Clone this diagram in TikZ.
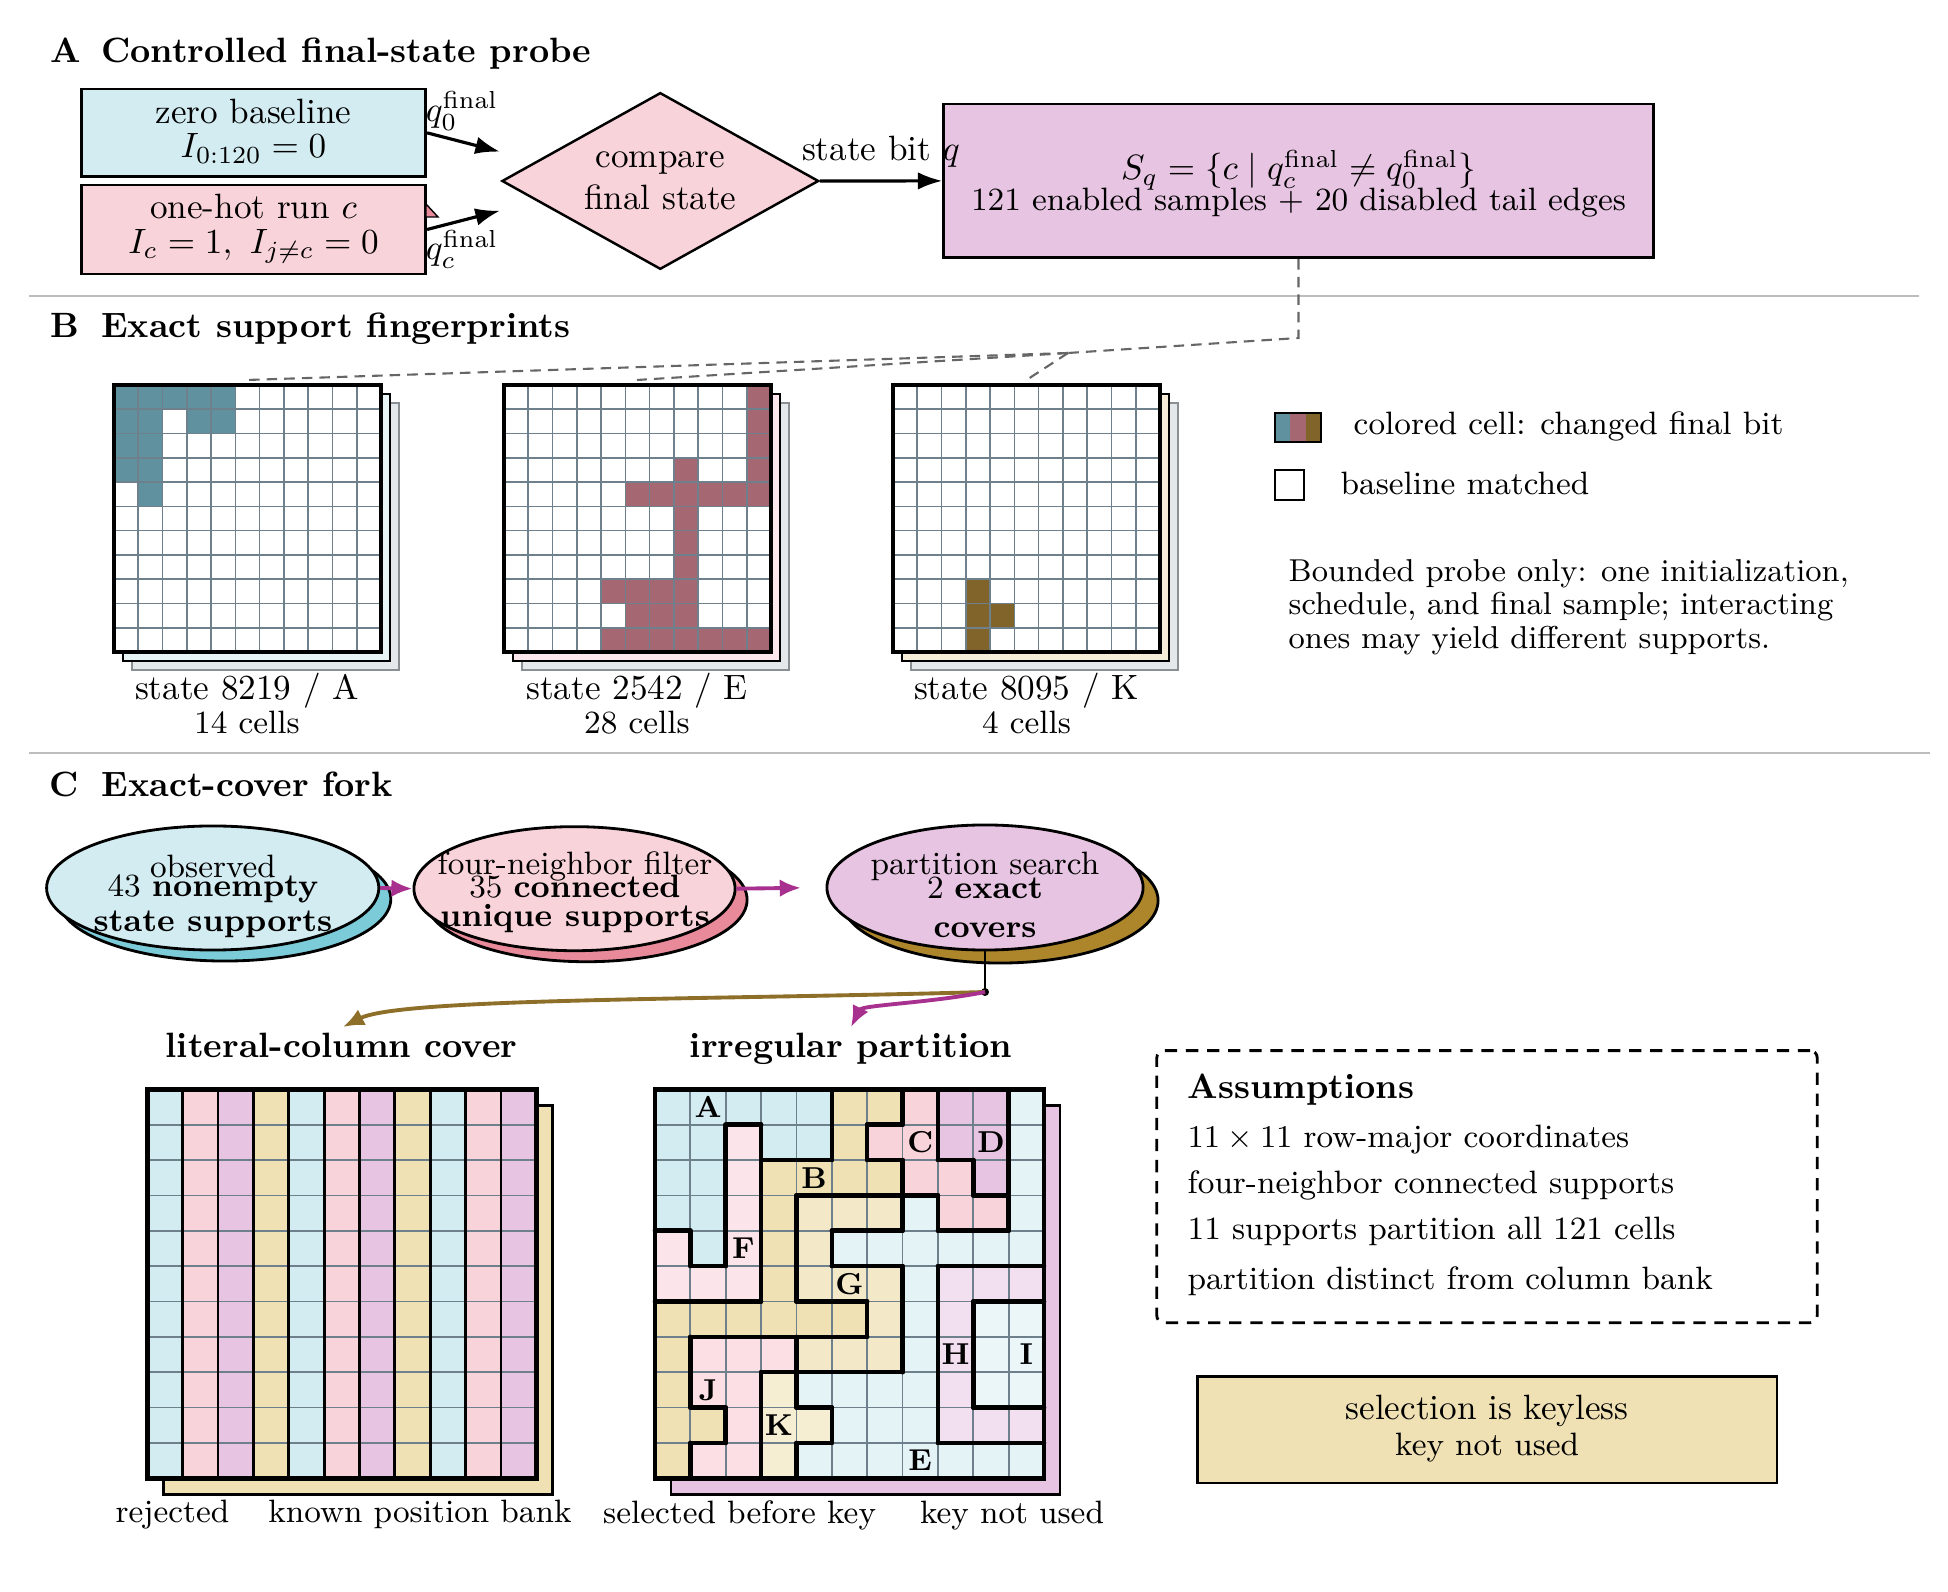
\documentclass[tikz,border=0pt]{standalone}
\usetikzlibrary{arrows.meta,shapes.geometric,calc}
\definecolor{cBlue}{HTML}{D3ECF1}
\definecolor{cPink}{HTML}{F9D3DA}
\definecolor{cLav}{HTML}{E7C4E2}
\definecolor{cTan}{HTML}{EFE1B4}
\definecolor{cTeal}{HTML}{5F929E}
\definecolor{cMauve}{HTML}{A56873}
\definecolor{cOlive}{HTML}{80642A}
\definecolor{gridc}{HTML}{6E808C}
\definecolor{sepc}{HTML}{BDBDBD}
\definecolor{dashc}{HTML}{666666}
\definecolor{magc}{HTML}{A8318F}
\definecolor{goldc}{HTML}{8E6F2A}
\definecolor{shCyan}{HTML}{7CCBD9}
\definecolor{shPink}{HTML}{E98A9B}
\definecolor{shGold}{HTML}{AD862C}
\definecolor{shTealL}{HTML}{E8F5F7}
\definecolor{shPinkL}{HTML}{FCE8EC}
\definecolor{shCreamL}{HTML}{F5EDD8}
\definecolor{shGray}{HTML}{E4E8EB}
\definecolor{shGrayB}{HTML}{8A8F94}
\definecolor{colA}{HTML}{D3ECF1}
\definecolor{colB}{HTML}{EFE1B4}
\definecolor{colC}{HTML}{F9D3DA}
\definecolor{colD}{HTML}{E7C4E2}
\definecolor{colE}{HTML}{E3F3F6}
\definecolor{colF}{HTML}{FCE5EA}
\definecolor{colG}{HTML}{F3E9C9}
\definecolor{colH}{HTML}{F2DFF0}
\definecolor{colI}{HTML}{EBF6F8}
\definecolor{colJ}{HTML}{FBDFE5}
\definecolor{colK}{HTML}{F6EED3}
\definecolor{lc0}{HTML}{D3ECF1}
\definecolor{lc1}{HTML}{F9D3DA}
\definecolor{lc2}{HTML}{E7C4E2}
\definecolor{lc3}{HTML}{EFE1B4}
\newcommand{\fpgrid}[4]{%
 \begin{scope}[shift={(#1,385)}]
  \filldraw[fill=shGray, draw=shGrayB, line width=0.5pt] (18,18) rectangle (285,285);
  \filldraw[fill=#2, draw=black, line width=0.6pt] (9,9) rectangle (276,276);
  \fill[white] (0,0) rectangle (267,267);
  \foreach \ri/\ci in {#4} \fill[#3] ({\ci*24.2727},{\ri*24.2727}) rectangle ++(24.2727,24.2727);
  \foreach \k in {1,...,10} {\draw[gridc, line width=0.45pt] ({\k*24.2727},0) -- ({\k*24.2727},267);
    \draw[gridc, line width=0.45pt] (0,{\k*24.2727}) -- (267,{\k*24.2727});}
  \draw[black, line width=1.1pt] (0,0) rectangle (267,267);
 \end{scope}}
\begin{document}
\begin{tikzpicture}[x=0.01cm,y=-0.01cm,font=\fontsize{10}{12}\selectfont,
  txt/.style={inner sep=0pt, anchor=base},
  sm/.style={font=\fontsize{9.2}{11}\selectfont},
  smb/.style={font=\fontsize{9.2}{11}\selectfont\bfseries},
  para/.style={font=\fontsize{9}{11}\selectfont},
  ttl/.style={inner sep=0pt, anchor=base west, font=\bfseries},
  abox/.style={draw=black, line width=0.8pt, inner sep=0pt},
  aarrow/.style={line width=0.9pt, -{Latex[length=7pt,width=5pt]}},
  marrow/.style={draw=magc, line width=1.1pt, -{Latex[length=6pt,width=5pt]}},
  garrow/.style={draw=goldc, line width=1.1pt, -{Latex[length=6pt,width=5pt]}},
  dline/.style={draw=dashc, line width=0.6pt, dash pattern=on 3pt off 2pt},
  sepl/.style={draw=sepc, line width=0.7pt},
  ell/.style={ellipse, draw=black, line width=0.8pt, inner sep=0pt}]
\useasboundingbox (0,0) rectangle (1948,1592);

% ---------- titles and separators
\node[ttl] (tA) at (50,63) {A};
\node[ttl] (tA2) at (100.6,63) {Controlled final-state probe};
\node[ttl] (tB) at (50,338) {B};
\node[ttl] (tB2) at (100.6,338) {Exact support fingerprints};
\node[ttl] (tC) at (49,797) {C};
\node[ttl] (tC2) at (101,797) {Exact-cover fork};
\draw[sepl] (29,296) -- (1919,296);
\draw[sepl] (29,753) -- (1930,753);

% ---------- panel A
\node[abox, fill=cBlue, minimum width=3.441cm, minimum height=0.877cm] (zb) at (253.5,132.85) {};
\node[abox, fill=cPink, minimum width=3.441cm, minimum height=0.89cm] (oh) at (253.5,229.5) {};
\filldraw[fill=shPink, draw=black, line width=0.4pt] (426,204) -- (438,217) -- (426,217) -- cycle;
\node[txt] (zb1) at (253.5,124) {zero baseline};
\node[txt] (zb2) at (253.5,158) {$I_{0:120}=0$};
\node[txt] (oh1) at (253.5,218.3) {one-hot run $c$};
\node[txt] (oh2) at (253.5,253.3) {$I_c=1,\ I_{j\neq c}=0$};
\node[diamond, aspect=1.8, draw=black, line width=0.7pt, fill=cPink, minimum width=3.166cm, minimum height=1.766cm, inner sep=0pt, align=center] (dm) at (660.3,181) {compare\\final state};
\node[abox, fill=cLav, minimum width=7.09cm, minimum height=1.537cm] (sb) at (1298.5,180.9) {};
\node[txt] (sb1) at (1298.5,180) {$S_q=\{c\mid q_c^{\mathrm{final}}\neq q_0^{\mathrm{final}}\}$};
\node[txt, sm] (sb2) at (1298.5,210.7) {121 enabled samples + 20 disabled tail edges};
\coordinate (zbE) at (500,151.7);
\coordinate (ohE) at (500,210.7);
\draw[aarrow] (zb.east) -- (zbE);
\draw[aarrow] (oh.east) -- (ohE);
\node[txt] (q0) at (462,121.7) {$q_0^{\mathrm{final}}$};
\node[txt] (qc) at (462,260) {$q_c^{\mathrm{final}}$};
\draw[aarrow] (dm.east) -- (sb.west);
\node[txt] (sbq) at (881,161) {state bit $q$};

% ---------- dashed links
\coordinate (d1) at (1298.5,338);
\coordinate (hub) at (1068,353);
\coordinate (gAt) at (247,380);
\coordinate (gEt) at (637,380);
\coordinate (gKt) at (1026.5,380);
\draw[dline] (sb.south) -- (d1) -- (hub);
\draw[dline] (hub) -- (gAt);
\draw[dline] (hub) -- (gEt);
\draw[dline] (hub) -- (gKt);

% ---------- panel B grids
\fpgrid{114}{shTealL}{cTeal}{0/0,0/1,0/2,0/3,0/4,1/0,1/1,1/3,1/4,2/0,2/1,3/0,3/1,4/1}
\fpgrid{504}{shPinkL}{cMauve}{0/10,1/10,2/10,3/7,3/10,4/5,4/6,4/7,4/8,4/9,4/10,5/7,6/7,7/7,8/4,8/5,8/6,8/7,9/5,9/6,9/7,10/4,10/5,10/6,10/7,10/8,10/9,10/10}
\fpgrid{893}{shCreamL}{cOlive}{8/3,9/3,9/4,10/3}
\node[txt] (lA1) at (247,700) {state 8219 / A};
\node[txt, font=\fontsize{9.2}{11}\selectfont] (lA2) at (247,734) {14 cells};
\node[txt] (lE1) at (637,700) {state 2542 / E};
\node[txt, font=\fontsize{9.2}{11}\selectfont] (lE2) at (637,734) {28 cells};
\node[txt] (lK1) at (1026.5,700) {state 8095 / K};
\node[txt, font=\fontsize{9.2}{11}\selectfont] (lK2) at (1026.5,734) {4 cells};

% legend
\fill[cTeal] (1275,413) rectangle (1290.3,442);
\fill[cMauve] (1290.3,413) rectangle (1305.7,442);
\fill[cOlive] (1305.7,413) rectangle (1321,442);
\draw[line width=0.8pt] (1275,413) rectangle (1321,442);
\draw[line width=0.6pt, fill=white] (1275,470) rectangle (1304,500);
\node[txt, anchor=base west, sm] (lg1) at (1353,435) {colored cell: changed final bit};
\node[txt, anchor=base west, sm] (lg2) at (1340,495) {baseline matched};
\node[txt, anchor=base west, para] (p1) at (1288,581.7) {Bounded probe only: one initialization,};
\node[txt, anchor=base west, para] (p2) at (1288,615) {schedule, and final sample; interacting};
\node[txt, anchor=base west, para] (p3) at (1288,648.3) {ones may yield different supports.};

% ---------- panel C ellipses
\node[ell, fill=shCyan, minimum width=3.32cm, minimum height=1.24cm] (e1s) at (224.7,899) {};
\node[ell, fill=cBlue, minimum width=3.32cm, minimum height=1.24cm] (e1) at (212.7,888) {};
\node[ell, fill=shPink, minimum width=3.21cm, minimum height=1.24cm] (e2s) at (586.5,899.7) {};
\node[ell, fill=cPink, minimum width=3.21cm, minimum height=1.24cm] (e2) at (574.5,888.7) {};
\node[ell, fill=shGold, minimum width=3.16cm, minimum height=1.25cm] (e3s) at (1000,900.5) {};
\node[ell, fill=cLav, minimum width=3.16cm, minimum height=1.25cm] (e3) at (985,887.5) {};
\node[txt, sm] (e1a) at (213,877.3) {observed};
\node[txt, sm] (e1b) at (213,896.7) {43 \textbf{nonempty}};
\node[txt, smb] (e1c) at (213,931.7) {state supports};
\node[txt, sm] (e2a) at (575,874.3) {four-neighbor filter};
\node[txt, sm] (e2b) at (575,897.7) {35 \textbf{connected}};
\node[txt, smb] (e2c) at (575,926.7) {unique supports};
\node[txt, sm] (e3a) at (985,874.3) {partition search};
\node[txt, sm] (e3b) at (985,898.3) {2 \textbf{exact}};
\node[txt, smb] (e3c) at (985,937.7) {covers};
\draw[marrow] (e1.east) -- (e2.west);
\draw[marrow, shorten >=7pt] (e2.east) -- (e3.west);

% fork
\coordinate (fk) at (985,992);
\draw[line width=0.7pt] (e3.south) -- (fk);
\fill (fk) circle (4);
\node[txt, font=\bfseries] (lc) at (341.5,1058) {literal-column cover};
\node[txt, font=\bfseries] (ip) at (851,1058) {irregular partition};
\coordinate (lcT) at (343,1027);
\coordinate (ipT) at (851,1027);
\draw[garrow] (fk) .. controls (700,1000) and (400,998) .. (lcT);
\draw[marrow] (fk) .. controls (930,1003) and (862,1005) .. (ipT);

% ---------- literal-column cover grid
\begin{scope}[shift={(147.3,1089.3)}]
  \filldraw[fill=cTan, draw=black, line width=0.8pt] (16,16) rectangle (405,405);
  \foreach \ci in {0,...,10} {
    \pgfmathtruncatemacro\mc{mod(\ci,4)}
    \fill[fill=lc\mc] ({\ci*35.3636},0) rectangle ++(35.3636,389);
  }
  \foreach \k in {1,...,10} \draw[gridc, line width=0.5pt] (0,{\k*35.3636}) -- (389,{\k*35.3636});
  \foreach \k in {1,...,10} \draw[black, line width=0.8pt] ({\k*35.3636},0) -- ({\k*35.3636},389);
  \draw[black, line width=1.3pt] (0,0) rectangle (389,389);
\end{scope}

% ---------- irregular partition grid
\begin{scope}[shift={(655,1089.3)}]
  \filldraw[fill=cLav, draw=black, line width=0.8pt] (16,16) rectangle (405,405);
  \foreach \rw [count=\ri from 0] in {
    {A,A,A,A,A,B,B,C,D,D,E},
    {A,A,F,A,A,B,C,C,D,D,E},
    {A,A,F,B,B,B,B,C,C,D,E},
    {A,A,F,B,G,G,G,E,C,C,E},
    {F,A,F,B,G,E,E,E,E,E,E},
    {F,F,F,B,G,G,G,E,H,H,H},
    {B,B,B,B,B,B,G,E,H,I,I},
    {B,J,J,J,G,G,G,E,H,I,I},
    {B,J,J,K,E,E,E,E,H,I,I},
    {B,B,J,K,K,E,E,E,H,H,H},
    {B,J,J,K,E,E,E,E,E,E,E}} {
    \foreach \lt [count=\ci from 0] in \rw {
      \fill[fill=col\lt] ({\ci*35.3636},{\ri*35.3636}) rectangle ++(35.3636,35.3636);
    }
  }
  \foreach \k in {1,...,10} {\draw[gridc, line width=0.5pt] (0,{\k*35.3636}) -- (389,{\k*35.3636});
    \draw[gridc, line width=0.5pt] ({\k*35.3636},0) -- ({\k*35.3636},389);}
  \foreach \ri/\kl in {0/{5,7,8,10},1/{2,3,5,6,8,10},2/{2,3,7,9,10},3/{2,3,4,7,8,10},4/{1,2,3,4,5},5/{3,4,7,8},6/{6,7,8,9},7/{1,4,7,8,9},8/{1,3,4,8,9},9/{2,3,5,8},10/{1,3,4}} {
    \foreach \k in \kl \draw[black, line width=1.3pt, line cap=round] ({\k*35.3636},{\ri*35.3636}) -- ++(0,35.3636);
  }
  \foreach \k/\cl in {1/{2,6},2/{3,4,6,8},3/{4,5,6,7,9},4/{0,5,6,8,9},5/{1,5,6,8,9,10},6/{0,1,2,4,5,9,10},7/{1,2,3,4,5},8/{3,4,5,6},9/{1,4,9,10},10/{1,4,8,9,10}} {
    \foreach \ci in \cl \draw[black, line width=1.3pt, line cap=round] ({\ci*35.3636},{\k*35.3636}) -- ++(35.3636,0);
  }
  \draw[black, line width=1.3pt] (0,0) rectangle (389,389);
  \foreach \lt/\ri/\ci in {A/0/1,B/2/4,C/1/7,D/1/9,E/10/7,F/4/2,G/5/5,H/7/8,I/7/10,J/8/1,K/9/3}
    \node[font=\fontsize{8.6}{10}\selectfont\bfseries, inner sep=0pt] (pl\lt) at ({(\ci+0.5)*35.3636},{(\ri+0.5)*35.3636}) {\lt};
\end{scope}
\node[txt, sm] (bl1) at (172.5,1522) {rejected};
\node[txt, sm] (bl2) at (420,1522) {known position bank};
\node[txt, sm] (bl3) at (739.6,1523) {selected before key};
\node[txt, sm] (bl4) at (1012,1523) {key not used};

% ---------- assumptions
\node[draw=black, line width=0.8pt, dash pattern=on 3.5pt off 2.5pt, rounded corners=2pt, minimum width=6.6cm, minimum height=2.72cm, inner sep=0pt] (asm) at (1487,1186.7) {};
\node[txt, anchor=base west, font=\bfseries] (as0) at (1187,1098.3) {Assumptions};
\node[txt, anchor=base west, sm] (as1) at (1187,1147.3) {$11\times 11$ row-major coordinates};
\node[txt, anchor=base west, sm] (as2) at (1187,1193.3) {four-neighbor connected supports};
\node[txt, anchor=base west, sm] (as3) at (1187,1240) {11 supports partition all 121 cells};
\node[txt, anchor=base west, sm] (as4) at (1187,1290) {partition distinct from column bank};
\node[abox, fill=cTan, minimum width=5.794cm, minimum height=1.063cm] (kl) at (1487.1,1429.85) {};
\node[txt] (kl1) at (1487.1,1419) {selection is keyless};
\node[txt, font=\fontsize{9.2}{11}\selectfont] (kl2) at (1487.1,1455) {key not used};
\end{tikzpicture}
\end{document}
